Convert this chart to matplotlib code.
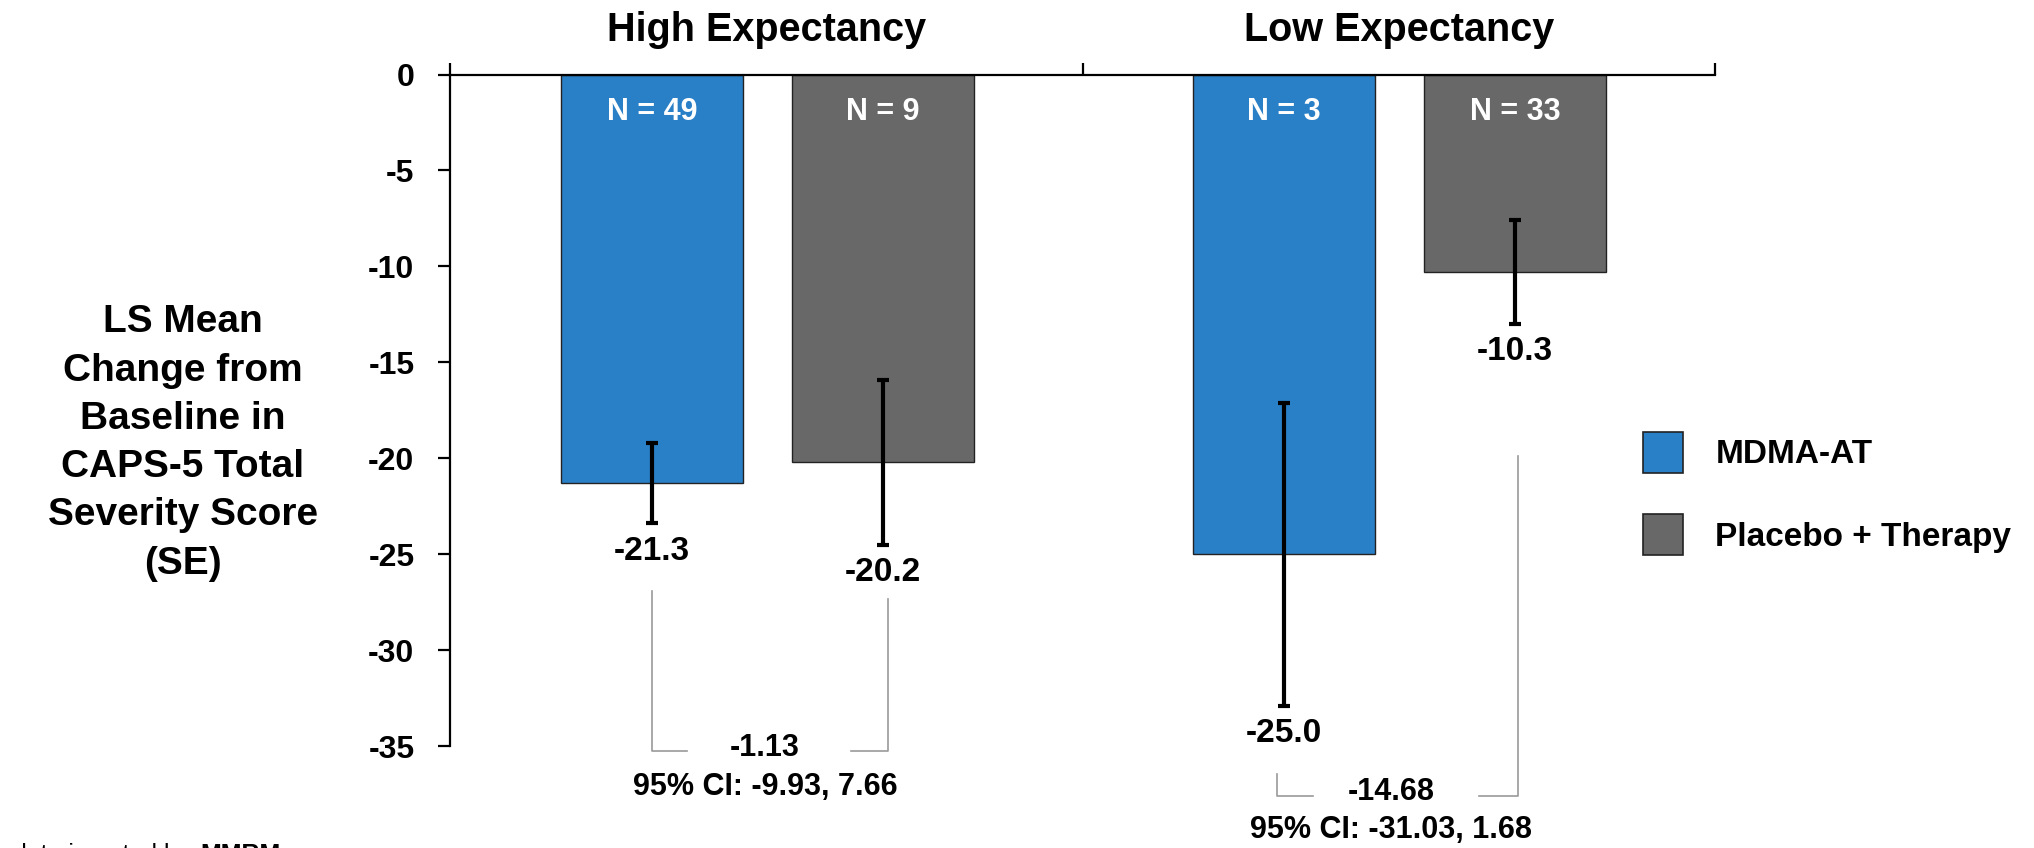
import matplotlib
matplotlib.use("Agg")
import matplotlib.pyplot as plt
from matplotlib.patches import Patch

plt.rcParams['font.family'] = ['Liberation Sans', 'DejaVu Sans']
plt.rcParams['font.weight'] = 'bold'

# Data
groups = ["High Expectancy", "Low Expectancy"]
series = ["MDMA-AT", "Placebo + Therapy"]
ls_mean = {"MDMA-AT": [-21.3, -25.0], "Placebo + Therapy": [-20.2, -10.3]}
se = {"MDMA-AT": [2.1, 7.9], "Placebo + Therapy": [4.3, 2.7]}
n_subjects = {"MDMA-AT": [49, 3], "Placebo + Therapy": [9, 33]}
diff_labels = ["-1.13", "-14.68"]
ci_labels = ["95% CI: -9.93, 7.66", "95% CI: -31.03, 1.68"]
yticks = [0, -5, -10, -15, -20, -25, -30, -35]

colors = {"MDMA-AT": "#2A80C6", "Placebo + Therapy": "#686868"}
offsets = {"MDMA-AT": -0.181, "Placebo + Therapy": 0.184}
bar_w = 0.288

fig = plt.figure(figsize=(20.34, 8.48), dpi=100)
ax = fig.add_axes([450 / 2034, 1 - 746 / 848, (1715 - 450) / 2034, (746 - 74.5) / 848])

for s in series:
    xs = [g + 0.5 + offsets[s] for g in range(len(groups))]
    ax.bar(xs, ls_mean[s], width=bar_w, color=colors[s], edgecolor="#222222",
           linewidth=1.0, zorder=2)
    ax.errorbar(xs, ls_mean[s], yerr=se[s], fmt="none", ecolor="black",
                elinewidth=3, capsize=4, capthick=3, zorder=3)
    for x, m, e, n in zip(xs, ls_mean[s], se[s], n_subjects[s]):
        ax.text(x, -1.94, f"N = {n}", ha="center", va="center", color="white",
                fontsize=22, fontweight="bold", zorder=4)
        ax.annotate(f"{m:.1f}", xy=(x, m - e), xytext=(0, -20),
                    textcoords="offset points", ha="center", va="center",
                    fontsize=24, fontweight="bold", annotation_clip=False)

# Group headings above the top axis
for i, g in enumerate(groups):
    ax.text(i + 0.5, 1.76, g, ha="center", va="baseline", fontsize=28.5,
            fontweight="bold", clip_on=False)

# Comparison brackets with difference and confidence interval
bracket_color = "#9a9a9a"
brackets = [
    # (left x, left top, inner left end, inner right start, right x, right top, bottom)
    (0.319, -26.93, 0.375, 0.634, 0.692, -27.35, -35.27),
    (1.3075, -36.47, 1.364, 1.627, 1.6885, -19.89, -37.62),
]
text_pos = [(0.498, -35.1, -37.15), (1.488, -37.41, -39.39)]
for (lx, lt, le, rs, rx, rt, b), (tx, ty1, ty2), dl, cl in zip(brackets, text_pos, diff_labels, ci_labels):
    ax.plot([lx, lx, le], [lt, b, b], color=bracket_color, lw=1.2, clip_on=False)
    ax.plot([rs, rx, rx], [b, b, rt], color=bracket_color, lw=1.2, clip_on=False)
    ax.text(tx, ty1, dl, ha="center", va="center", fontsize=22,
            fontweight="bold", clip_on=False)
    ax.text(tx, ty2, cl, ha="center", va="center", fontsize=22,
            fontweight="bold", clip_on=False)

# Axes styling
ax.set_xlim(0, 2)
ax.set_ylim(-35, 0)
ax.spines["bottom"].set_visible(False)
ax.spines["right"].set_visible(False)
ax.spines["left"].set_linewidth(1.6)
ax.spines["top"].set_linewidth(1.6)
ax.xaxis.tick_top()
ax.set_xticks([0, 1, 2])
ax.set_xticklabels([])
ax.tick_params(axis="x", direction="out", length=8.6, width=1.6)
ax.set_yticks(yticks)
ax.set_yticklabels([str(t) for t in yticks], fontsize=23, fontweight="bold")
ax.tick_params(axis="y", direction="out", length=8.6, width=1.6, pad=17)

fig.text(183 / 2034, 1 - 443 / 848,
         "LS Mean\nChange from\nBaseline in\nCAPS-5 Total\nSeverity Score\n(SE)",
         ha="center", va="center", multialignment="center", fontsize=28,
         fontweight="bold", linespacing=1.44)

handles = [Patch(facecolor=colors[s], edgecolor="#222222", linewidth=1.2) for s in series]
fig.legend(handles, series, loc="upper left", bbox_to_anchor=(1643 / 2034, 1 - 432 / 848),
           frameon=False, handlelength=1.2, handleheight=1.5,
           handletextpad=0.97, labelspacing=1.25, borderpad=0, borderaxespad=0,
           prop={"weight": "bold", "size": 24})

# Footnote along the bottom edge
fig.text(13 / 2034, 1 - 843 / 848, "data imputed by ", ha="left", va="top",
         fontsize=18, fontweight="normal")
fig.text(200 / 2034, 1 - 843 / 848, "MMRM", ha="left", va="top",
         fontsize=18, fontweight="bold")

fig.savefig("out.png", dpi=100)
